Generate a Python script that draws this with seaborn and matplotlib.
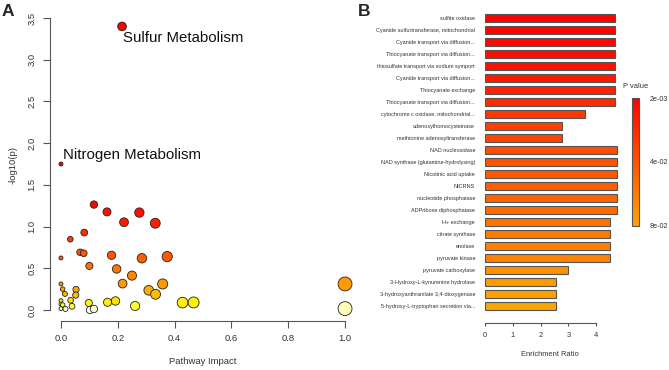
import numpy as np
import pandas as pd
import matplotlib
matplotlib.use("Agg")
import matplotlib.pyplot as plt
import matplotlib.colors as mcolors
import seaborn as sns

# ---------------- Panel A data ----------------
impact = [0.215, 0.0, 0.116, 0.162, 0.222, 0.276, 0.332, 0.082, 0.033, 0.0,
          0.067, 0.080, 0.100, 0.178, 0.285, 0.374, 0.196, 0.250, 0.217, 0.358,
          0.309, 0.333, 1.0, 1.0, 0.428, 0.467, 0.261, 0.192, 0.164, 0.098,
          0.102, 0.116, 0.0, 0.006, 0.014, 0.053, 0.052, 0.034, 0.039, 0.0,
          0.0, 0.006, 0.0, 0.016]
neglogp = [3.40, 1.75, 1.264, 1.176, 1.052, 1.168, 1.040, 0.928, 0.848, 0.624,
           0.692, 0.680, 0.528, 0.656, 0.620, 0.640, 0.492, 0.412, 0.316, 0.312,
           0.236, 0.188, 0.312, 0.016, 0.088, 0.090, 0.048, 0.108, 0.092, 0.084,
           0.000, 0.012, 0.312, 0.250, 0.192, 0.246, 0.178, 0.116, 0.044, 0.112,
           0.070, 0.060, 0.016, 0.012]
highlight_names = ["Sulfur Metabolism", "Nitrogen Metabolism"]
highlight_idx = [0, 1]

# ---------------- Panel B data ----------------
enzymes = ["sulfite oxidase",
           "Cyanide sulfurtransferase, mitochondrial",
           "Cyanide transport via diffusion...",
           "Thiocyanate transport via diffusion...",
           "thiosulfate transport via sodium symport",
           "Cyanide transport via diffusion...",
           "Thiocyanate exchange",
           "Thiocyanate transport via diffusion...",
           "cytochrome c oxidase, mitochondrial...",
           "adenosylhomocysteinase",
           "methionine adenosyltransferase",
           "NAD nucleosidase",
           "NAD synthase (glutamine-hydrolysing)",
           "Nicotinic acid uptake",
           "NICRNS",
           "nucleotide phosphatase",
           "ADPribose diphosphatase",
           "H+ exchange",
           "citrate synthase",
           "enolase",
           "pyruvate kinase",
           "pyruvate carboxylase",
           "3-Hydroxy-L-kynurenine hydrolase",
           "3-hydroxyanthranilate 3,4-dioxygenase",
           "5-hydroxy-L-tryptophan secretion via..."]
enrichment = [4.69, 4.69, 4.69, 4.69, 4.69, 4.69, 4.69, 4.69, 3.60, 2.76,
              2.76, 4.76, 4.76, 4.76, 4.76, 4.76, 4.76, 4.51, 4.51, 4.51,
              4.51, 2.98, 2.54, 2.54, 2.54]
pvalue = [0.0020, 0.0034, 0.0048, 0.0077, 0.0105, 0.0133, 0.0180, 0.0219, 0.0285, 0.0320,
          0.0340, 0.0380, 0.0410, 0.0436, 0.0464, 0.0490, 0.0520, 0.0568, 0.0597, 0.0625,
          0.0640, 0.0700, 0.0740, 0.0770, 0.0800]
cbar_ticks = [0.002, 0.041, 0.080]
cbar_labels = ["2e-03", "4e-02", "8e-02"]

# ---------------- style ----------------
sns.set_style("white")
plt.rcParams["font.family"] = ["Liberation Sans", "DejaVu Sans"]
gray = "#333333"
axcol = "#555555"

W, H = 669, 370
fig = plt.figure(figsize=(W / 100, H / 100), dpi=100)

def rect(l, t, r, b):
    return [l / W, 1 - b / H, (r - l) / W, (b - t) / H]

# ---------------- Panel A ----------------
axA = fig.add_axes(rect(49.6, 15.1, 356.4, 321.3))
dfA = pd.DataFrame({"impact": impact, "neglogp": neglogp})
stops = [(0, '#ffffff'), (0.012, '#ffffd0'), (0.02, '#ffff90'), (0.045, '#ffff30'),
         (0.09, '#fff000'), (0.11, '#ffe000'), (0.2, '#ffb400'), (0.31, '#ff9a00'),
         (0.41, '#ff8800'), (0.5, '#ff7400'), (0.65, '#ff5800'), (0.9, '#ff3400'),
         (1.05, '#ff1c00'), (1.3, '#ff0000')]
vmax = 1.3
cmapA = mcolors.LinearSegmentedColormap.from_list("heat", [(v / vmax, c) for v, c in stops])
sns.scatterplot(data=dfA, x="impact", y="neglogp", hue="neglogp", palette=cmapA,
                hue_norm=(0, vmax), size="impact", sizes=(8, 100),
                size_norm=mcolors.PowerNorm(gamma=0.7, vmin=0, vmax=1),
                edgecolor="#222222", linewidth=0.6, legend=False, ax=axA, clip_on=False)
axA.set_xlim(-0.04, 1.04)
axA.set_ylim(-0.136, 3.536)
for s in ["top", "right"]:
    axA.spines[s].set_visible(False)
axA.spines["left"].set_bounds(0, 3.5)
axA.spines["bottom"].set_bounds(0, 1.0)
for s in ["left", "bottom"]:
    axA.spines[s].set_color(axcol)
    axA.spines[s].set_linewidth(0.8)
axA.set_xticks([0, 0.2, 0.4, 0.6, 0.8, 1.0])
axA.set_xticklabels(["0.0", "0.2", "0.4", "0.6", "0.8", "1.0"])
axA.set_yticks([0, 0.5, 1.0, 1.5, 2.0, 2.5, 3.0, 3.5])
axA.set_yticklabels(["0.0", "0.5", "1.0", "1.5", "2.0", "2.5", "3.0", "3.5"],
                    rotation=90, va="center")
axA.tick_params(axis="both", direction="out", length=4.8, width=0.8, color=axcol,
                labelsize=6.8, labelcolor=gray, pad=4.5, left=True, bottom=True)
axA.set_xlabel("Pathway Impact", fontsize=6.8, color=gray)
axA.set_ylabel("-log10(p)", fontsize=6.8, color=gray)
axA.xaxis.set_label_coords(0.5, -0.132)
axA.xaxis.label.set_va("center")
axA.yaxis.set_label_coords(-0.119, 0.51)
axA.yaxis.label.set_va("center")
offsets = [(0.004, -0.14), (0.006, 0.11)]
for name, i, (dx, dy) in zip(highlight_names, highlight_idx, offsets):
    axA.text(impact[i] + dx, neglogp[i] + dy, name, fontsize=10.8, color="#111111",
             ha="left", va="center")
fig.text(2 / W, 1 - 12 / H, "A", fontsize=12.5, fontweight="bold", va="center", ha="left")

# ---------------- Panel B ----------------
axB = fig.add_axes(rect(485.3, 12.3, 625.3, 323.3))
dfB = pd.DataFrame({"pos": list(range(len(enzymes))), "ratio": enrichment, "p": pvalue})
cmapB = mcolors.LinearSegmentedColormap.from_list("redorange", ["#ff0000", "#ffa500"])
normB = mcolors.Normalize(vmin=0.002, vmax=0.08)
sns.barplot(data=dfB, x="ratio", y="pos", orient="h", hue="p", palette=cmapB,
            hue_norm=normB, dodge=False, width=0.68, legend=False, saturation=1,
            edgecolor="#555555", linewidth=0.8, ax=axB)
axB.set_xlim(0, 140 / 27.67)
axB.set_ylim(25.42, -0.5)
axB.set_yticks(range(len(enzymes)))
axB.set_yticklabels(enzymes)
for s in ["top", "right", "left"]:
    axB.spines[s].set_visible(False)
axB.spines["bottom"].set_bounds(0, 4)
axB.spines["bottom"].set_color(axcol)
axB.spines["bottom"].set_linewidth(0.8)
axB.set_xticks([0, 1, 2, 3, 4])
axB.set_xticklabels(["0", "1", "2", "3", "4"])
axB.tick_params(axis="x", direction="out", length=2.4, width=0.8, color=axcol,
                labelsize=5.4, labelcolor=gray, pad=4.2, bottom=True)
axB.tick_params(axis="y", length=0, labelsize=4.0, labelcolor=gray, pad=7.4)
axB.set_xlabel("Enrichment Ratio", fontsize=5.4, color=gray)
axB.set_ylabel("")
axB.xaxis.set_label_coords(0.464, -0.099)
axB.xaxis.label.set_va("center")
fig.text(358 / W, 1 - 12 / H, "B", fontsize=12.5, fontweight="bold", va="center", ha="left")

# colorbar
cax = fig.add_axes(rect(632, 98.3, 639, 225.7))
sm = matplotlib.cm.ScalarMappable(norm=normB, cmap=cmapB)
cb = fig.colorbar(sm, cax=cax)
cax.invert_yaxis()
cb.set_ticks(cbar_ticks)
cb.set_ticklabels(cbar_labels)
cb.outline.set_edgecolor("#555555")
cb.outline.set_linewidth(0.8)
cax.tick_params(length=0, labelsize=5.2, labelcolor=gray, pad=8)
fig.text(635.5 / W, 1 - 86 / H, "P value", fontsize=5.4, color=gray, ha="center", va="center")

fig.savefig("out.png", dpi=100)
